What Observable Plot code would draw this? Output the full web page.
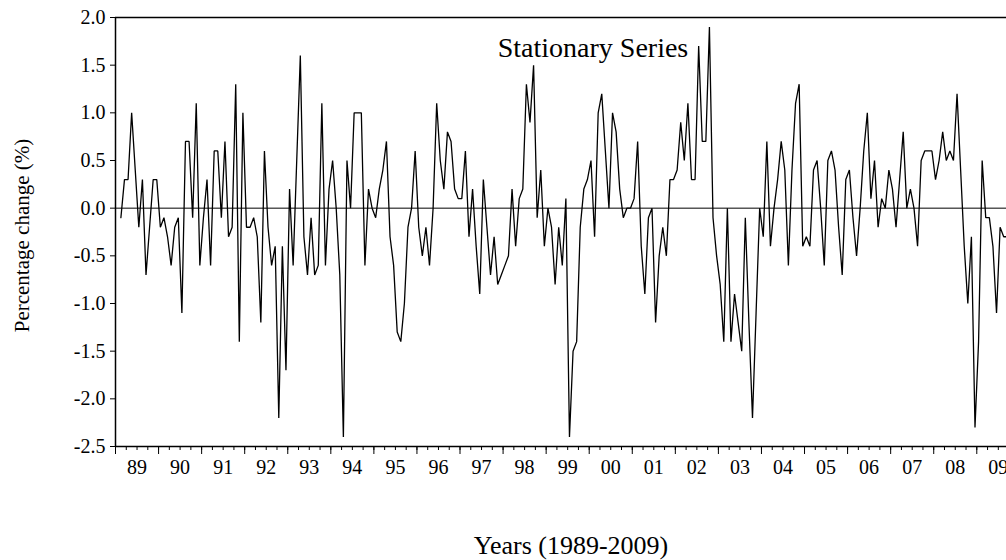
<!DOCTYPE html>
<html><head><meta charset="utf-8">
<script src="https://cdn.jsdelivr.net/npm/d3@7"></script>
<script src="https://cdn.jsdelivr.net/npm/@observablehq/plot@0.6"></script>
<style>html,body{margin:0;padding:0;background:#fff;overflow:hidden;}</style>
</head><body><div id="chart"></div>
<script>
const title = "Stationary Series";
const yLabel = "Percentage change (%)";
const xLabel = "Years (1989-2009)";
const startYear = 1989;
const startMonth = 2; // first observation: February 1989
const values = [
  -0.1, 0.3, 0.3, 1.0, 0.4, -0.2, 0.3, -0.7, -0.2, 0.3, 0.3, -0.2,
  -0.1, -0.3, -0.6, -0.2, -0.1, -1.1, 0.7, 0.7, -0.1, 1.1, -0.6, -0.1,
  0.3, -0.6, 0.6, 0.6, -0.1, 0.7, -0.3, -0.2, 1.3, -1.4, 1.0, -0.2,
  -0.2, -0.1, -0.3, -1.2, 0.6, -0.2, -0.6, -0.4, -2.2, -0.4, -1.7, 0.2,
  -0.6, 0.5, 1.6, -0.3, -0.7, -0.1, -0.7, -0.6, 1.1, -0.6, 0.2, 0.5,
  0.0, -0.7, -2.4, 0.5, 0.0, 1.0, 1.0, 1.0, -0.6, 0.2, 0.0, -0.1,
  0.2, 0.4, 0.7, -0.3, -0.6, -1.3, -1.4, -1.0, -0.2, 0.0, 0.6, -0.2,
  -0.5, -0.2, -0.6, 0.0, 1.1, 0.5, 0.2, 0.8, 0.7, 0.2, 0.1, 0.1,
  0.6, -0.3, 0.2, -0.4, -0.9, 0.3, -0.2, -0.7, -0.3, -0.8, -0.7, -0.6,
  -0.5, 0.2, -0.4, 0.1, 0.2, 1.3, 0.9, 1.5, -0.1, 0.4, -0.4, 0.0,
  -0.2, -0.8, -0.2, -0.6, 0.1, -2.4, -1.5, -1.4, -0.2, 0.2, 0.3, 0.5,
  -0.3, 1.0, 1.2, 0.6, 0.0, 1.0, 0.8, 0.2, -0.1, 0.0, 0.0, 0.1,
  0.7, -0.4, -0.9, -0.1, 0.0, -1.2, -0.5, -0.2, -0.5, 0.3, 0.3, 0.4,
  0.9, 0.5, 1.1, 0.3, 0.3, 1.7, 0.7, 0.7, 1.9, -0.1, -0.5, -0.8,
  -1.4, 0.0, -1.4, -0.9, -1.2, -1.5, -0.1, -1.2, -2.2, -1.1, 0.0, -0.3,
  0.7, -0.4, 0.0, 0.3, 0.7, 0.4, -0.6, 0.4, 1.1, 1.3, -0.4, -0.3,
  -0.4, 0.4, 0.5, 0.0, -0.6, 0.5, 0.6, 0.4, -0.2, -0.7, 0.3, 0.4,
  -0.1, -0.5, 0.0, 0.6, 1.0, 0.1, 0.5, -0.2, 0.1, 0.0, 0.4, 0.2,
  -0.2, 0.3, 0.8, 0.0, 0.2, 0.0, -0.4, 0.5, 0.6, 0.6, 0.6, 0.3,
  0.5, 0.8, 0.5, 0.6, 0.5, 1.2, 0.4, -0.4, -1.0, -0.3, -2.3, -1.4,
  0.5, -0.1, -0.1, -0.4, -1.1, -0.2, -0.3, -0.3
];
const yTicks = [-2.5, -2.0, -1.5, -1.0, -0.5, 0.0, 0.5, 1.0, 1.5, 2.0];
const yearTicks = [1989,1990,1991,1992,1993,1994,1995,1996,1997,1998,1999,2000,2001,2002,2003,2004,2005,2006,2007,2008,2009];
const yearLabels = ["89","90","91","92","93","94","95","96","97","98","99","00","01","02","03","04","05","06","07","08","09"];
const yDomain = [-2.5, 2.0];
const xDomain = [1989, 2009.69];

const data = values.map((v, i) => ({t: startYear + (startMonth - 1 + i + 0.5) / 12, v}));
const quarterTicks = d3.range(0, 84).map(k => yearTicks[0] + k / 4).filter(q => q <= xDomain[1]);
const labelPos = yearTicks.map(y => y + 0.5);

const font = "Liberation Serif, Times New Roman, serif";
const plot = Plot.plot({
  width: 1006, height: 560,
  marginLeft: 115, marginRight: 0, marginTop: 17, marginBottom: 114,
  style: {fontFamily: font, fontSize: "20px", color: "#000", background: "#fff", overflow: "hidden"},
  x: {domain: xDomain, label: null},
  y: {domain: yDomain, label: null},
  marks: [
    Plot.ruleY([0], {stroke: "#000", strokeWidth: 1}),
    Plot.line(data, {x: "t", y: "v", stroke: "#000", strokeWidth: 1.3, strokeLinejoin: "miter", clip: true}),
    Plot.ruleY([yDomain[1]], {stroke: "#000", strokeWidth: 1.5}),
    Plot.ruleY([yDomain[0]], {stroke: "#000", strokeWidth: 1.5}),
    Plot.ruleX([xDomain[0]], {stroke: "#000", strokeWidth: 1.5}),
    Plot.axisY(yTicks, {tickSize: 5, tickPadding: 5, tickFormat: d => d.toFixed(1), fontSize: 20, fontFamily: font}),
    Plot.axisX(quarterTicks, {tickSize: 4, tickFormat: () => ""}),
    Plot.axisX(yearTicks, {tickSize: 8, tickFormat: () => ""}),
    Plot.axisX(labelPos, {tickSize: 0, tickPadding: 13, tickFormat: (d, i) => yearLabels[i], fontSize: 20, fontFamily: font}),
    Plot.text([title], {frameAnchor: "top", lineAnchor: "middle", dx: 32, dy: 31, fontSize: 28, fontFamily: font, fill: "#000"}),
    Plot.text([yLabel], {frameAnchor: "left", textAnchor: "middle", lineAnchor: "middle", rotate: -90, dx: -93, dy: 3.5, fontSize: 21, fontFamily: font, fill: "#000"}),
    Plot.text([xLabel], {frameAnchor: "bottom", lineAnchor: "middle", dy: 99, dx: 10, fontSize: 26, fontFamily: font, fill: "#000"})
  ]
});
document.getElementById("chart").append(plot);
</script>
</body></html>
